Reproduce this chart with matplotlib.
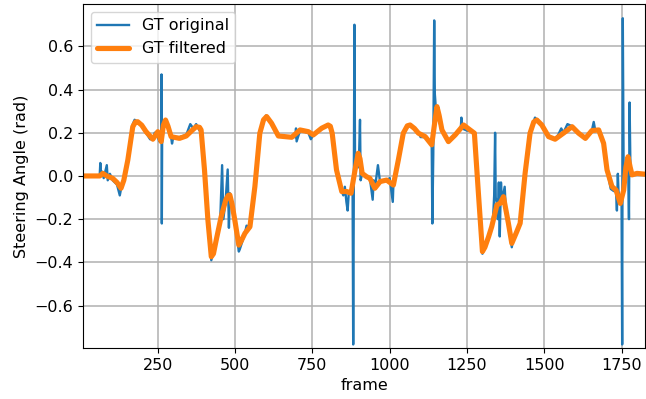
import numpy as np
import matplotlib.pyplot as plt

plt.rcParams['font.size'] = 11.5

# filtered steering angle (frame, rad)
filt_frames = [7, 50, 62, 72, 85, 104, 118, 131, 140, 153, 169, 178, 185, 198, 212, 234, 250,
               261, 268, 275, 283, 293, 320, 342, 360, 374, 385, 390, 401, 412, 423, 430, 439,
               455, 470, 478, 483, 490, 499, 512, 520, 532, 548, 564, 580, 592, 602, 618, 640,
               683, 710, 737, 753, 780, 801, 808, 814, 828, 845, 861, 875, 888, 898, 904, 911,
               925, 936, 952, 969, 990, 1012, 1028, 1044, 1057, 1066, 1080, 1093, 1115, 1136,
               1145, 1153, 1160, 1169, 1190, 1212, 1239, 1260, 1274, 1287, 1300, 1308, 1320,
               1330, 1347, 1357, 1368, 1384, 1395, 1411, 1422, 1438, 1454, 1466, 1476, 1492,
               1514, 1535, 1562, 1590, 1611, 1633, 1654, 1676, 1692, 1703, 1719, 1732, 1746,
               1757, 1764, 1771, 1778, 1784, 1800, 1827]
filt_values = [0.0, 0.0, 0.0, 0.012, 0.0, -0.011, -0.03, -0.057, -0.02, 0.074, 0.228, 0.25,
               0.251, 0.235, 0.205, 0.17, 0.205, 0.159, 0.235, 0.259, 0.23, 0.182, 0.174, 0.185,
               0.21, 0.228, 0.225, 0.213, 0.028, -0.204, -0.374, -0.36, -0.296, -0.188, -0.11,
               -0.09, -0.088, -0.13, -0.204, -0.32, -0.3, -0.265, -0.235, -0.049, 0.198, 0.26,
               0.275, 0.244, 0.185, 0.179, 0.213, 0.205, 0.19, 0.221, 0.236, 0.23, 0.198, 0.028,
               -0.072, -0.072, -0.08, 0.028, 0.105, 0.08, 0.012, -0.003, -0.011, -0.057, -0.026,
               -0.019, -0.042, 0.074, 0.198, 0.232, 0.236, 0.22, 0.198, 0.182, 0.144, 0.24, 0.321,
               0.28, 0.213, 0.159, 0.19, 0.236, 0.213, 0.198, -0.08, -0.35, -0.33, -0.281,
               -0.235, -0.134, -0.127, -0.096, -0.219, -0.312, -0.258, -0.219, 0.012, 0.198,
               0.25, 0.259, 0.236, 0.182, 0.17, 0.198, 0.228, 0.198, 0.174, 0.21, 0.213, 0.151,
               0.028, -0.049, -0.065, -0.127, -0.065, 0.04, 0.089, 0.04, 0.005, 0.012, 0.008]

# original (noisy) steering angle
orig_frames = [7, 62, 64, 66, 70, 75, 85, 88, 95, 104, 118, 127, 131, 140, 153, 169, 175, 185,
               198, 212, 225, 234, 240, 248, 255, 261, 262, 263, 264, 275, 283, 293, 296, 300,
               320, 342, 355, 365, 374, 385, 390, 401, 412, 423, 439, 452, 458, 462, 470, 476,
               480, 483, 499, 512, 515, 532, 537, 548, 564, 580, 600, 618, 640, 683, 695, 697,
               699, 710, 737, 745, 753, 780, 790, 801, 814, 828, 845, 850, 855, 860, 864, 868,
               875, 880, 882, 884, 886, 888, 895, 900, 904, 906, 911, 925, 936, 945, 948, 952,
               962, 969, 990, 1000, 1010, 1012, 1028, 1044, 1066, 1093, 1100, 1115, 1125, 1136,
               1138, 1141, 1144, 1146, 1150, 1169, 1190, 1212, 1230, 1232, 1234, 1250, 1260,
               1274, 1287, 1300, 1320, 1330, 1335, 1338, 1341, 1343, 1347, 1350, 1353, 1356,
               1360, 1363, 1368, 1372, 1375, 1384, 1395, 1400, 1411, 1422, 1438, 1454, 1470,
               1476, 1492, 1514, 1535, 1545, 1555, 1562, 1575, 1590, 1611, 1633, 1654, 1660,
               1665, 1676, 1692, 1703, 1715, 1725, 1732, 1735, 1738, 1740, 1746, 1750, 1752,
               1754, 1757, 1765, 1771, 1774, 1776, 1779, 1784, 1800, 1827]
orig_values = [0.0, 0.0, 0.06, 0.0, 0.02, -0.01, 0.05, -0.02, 0.01, -0.02, -0.04, -0.09, -0.06,
               -0.01, 0.08, 0.24, 0.26, 0.25, 0.23, 0.2, 0.17, 0.17, 0.2, 0.19, 0.16, 0.17, 0.47,
               -0.22, 0.2, 0.26, 0.23, 0.18, 0.15, 0.18, 0.18, 0.19, 0.24, 0.22, 0.24, 0.21, 0.21,
               0.03, -0.2, -0.39, -0.3, -0.2, 0.05, -0.2, -0.1, 0.03, -0.24, -0.08, -0.2, -0.35,
               -0.34, -0.265, -0.23, -0.235, -0.05, 0.2, 0.28, 0.24, 0.185, 0.18, 0.18, 0.22,
               0.16, 0.21, 0.2, 0.17, 0.19, 0.22, 0.23, 0.24, 0.2, 0.03, -0.07, -0.09, -0.05,
               -0.12, -0.16, -0.07, -0.08, -0.05, -0.78, 0.0, 0.70, 0.05, 0.1, 0.04, 0.26, -0.02,
               0.01, 0.0, -0.01, -0.11, -0.02, -0.06, 0.05, -0.03, -0.02, -0.01, -0.12, -0.04,
               0.07, 0.2, 0.24, 0.2, 0.18, 0.18, 0.17, 0.14, -0.22, 0.1, 0.72, 0.38, 0.3, 0.21,
               0.16, 0.19, 0.22, 0.27, 0.22, 0.21, 0.21, 0.2, -0.08, -0.36, -0.28, -0.23, -0.18,
               -0.09, 0.2, -0.1, -0.13, -0.2, -0.03, -0.28, -0.03, -0.12, -0.08, -0.05, -0.14,
               -0.22, -0.33, -0.28, -0.26, -0.22, 0.01, 0.2, 0.27, 0.26, 0.23, 0.18, 0.17, 0.19,
               0.22, 0.2, 0.24, 0.23, 0.2, 0.17, 0.21, 0.25, 0.21, 0.21, 0.15, 0.03, -0.06, -0.07,
               -0.065, -0.16, 0.01, -0.07, -0.12, -0.1, -0.78, 0.73, -0.06, 0.05, 0.09, -0.2,
               0.34, 0.0, 0.01, 0.01, 0.01]

fig = plt.figure(figsize=(6.46, 3.99), dpi=100)
ax = fig.add_axes([0.128, 0.128, 0.871, 0.862])

ax.plot(orig_frames, orig_values, color='#1f77b4', linewidth=1.7, label='GT original')
ax.plot(filt_frames, filt_values, color='#ff7f0e', linewidth=3.7,
        solid_joinstyle='round', solid_capstyle='round', label='GT filtered')

ax.set_xlim(7, 1827)
ax.set_ylim(-0.796, 0.796)
ax.set_xticks([250, 500, 750, 1000, 1250, 1500, 1750])
ax.set_yticks([-0.6, -0.4, -0.2, 0.0, 0.2, 0.4, 0.6])
ax.set_xlabel('frame')
ax.set_ylabel('Steering Angle (rad)')
ax.legend(loc='upper left')
ax.grid(linewidth=1.1)

fig.savefig('out.png', dpi=100)
